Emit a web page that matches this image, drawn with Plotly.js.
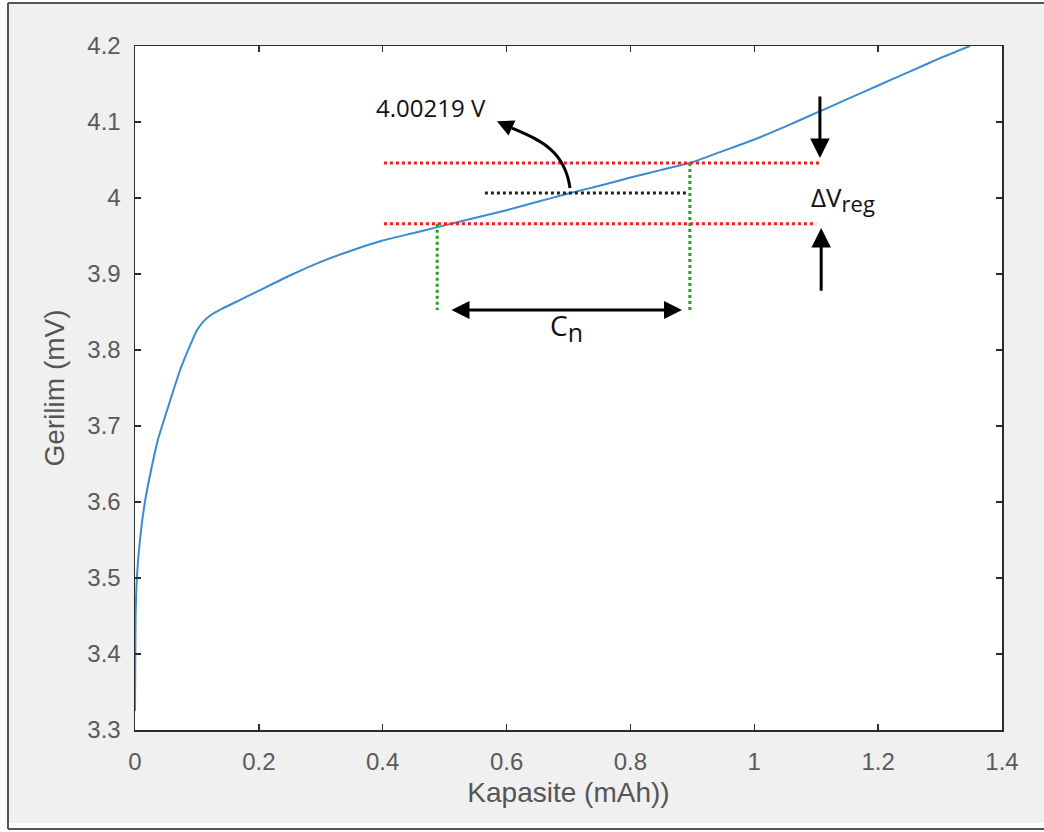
<!DOCTYPE html>
<html>
<head>
<meta charset="utf-8">
<script src="https://cdn.plot.ly/plotly-3.0.1.min.js"></script>
<style>html,body{margin:0;padding:0;background:#fff;}#chart{width:1044px;height:832px;}</style>
</head>
<body>
<div id="chart"></div>
<script>
// ---- data ----
const capacity = [0, 0.0005, 0.001, 0.003, 0.008, 0.016, 0.027, 0.037, 0.057, 0.073, 0.09, 0.100, 0.110, 0.121, 0.14, 0.17, 0.20, 0.25, 0.30, 0.35, 0.40, 0.45, 0.49, 0.55, 0.60, 0.65, 0.70, 0.75, 0.80, 0.85, 0.90, 0.95, 1.00, 1.05, 1.10, 1.15, 1.20, 1.25, 1.30, 1.348];
const voltage  = [3.325, 3.40, 3.45, 3.50, 3.55, 3.60, 3.646, 3.682, 3.734, 3.774, 3.808, 3.826, 3.837, 3.845, 3.854, 3.866, 3.878, 3.898, 3.916, 3.931, 3.944, 3.954, 3.962, 3.974, 3.984, 3.995, 4.006, 4.016, 4.027, 4.037, 4.047, 4.062, 4.077, 4.094, 4.112, 4.130, 4.148, 4.166, 4.184, 4.200];
const xTickVals = [0, 0.2, 0.4, 0.6, 0.8, 1.0, 1.2, 1.4];
const xTickText = ['0', '0.2', '0.4', '0.6', '0.8', '1', '1.2', '1.4'];
const yTickVals = [3.3, 3.4, 3.5, 3.6, 3.7, 3.8, 3.9, 4.0, 4.1, 4.2];
const yTickText = ['3.3', '3.4', '3.5', '3.6', '3.7', '3.8', '3.9', '4', '4.1', '4.2'];
// annotation values
const vHigh = 4.046, vLow = 3.966, vMid = 4.0066;
const cLow = 0.488, cHigh = 0.896;
const markText = '4.00219 V';

// ---- geometry helpers (pixel -> paper) ----
const W = 1044, H = 832, ML = 135, MR = 42, MT = 46, MB = 102;
const PW = W - ML - MR, PH = H - MT - MB;
const px = x => (x - ML) / PW;
const py = y => (H - MB - y) / PH;

const axisColor = '#2b2b2b';
const tickFont = {family: 'Liberation Sans, Arial, sans-serif', size: 24, color: '#5a5a5a'};
const noteFont = {family: 'Open Sans, Noto Sans, sans-serif', size: 24, color: '#111111'};

const trace = {
  x: capacity, y: voltage, type: 'scatter', mode: 'lines',
  line: {color: '#3a8bd2', width: 2, shape: 'spline', smoothing: 0.5},
  hoverinfo: 'skip', showlegend: false
};

const dot = (c) => ({color: c, width: 3, dash: 'dot'});
const shapes = [
  // outer frame
  {type: 'rect', xref: 'paper', yref: 'paper', x0: px(-5), x1: px(7), y0: py(-5), y1: py(840), fillcolor: '#ffffff', line: {width: 0}},
  {type: 'rect', xref: 'paper', yref: 'paper', x0: px(-5), x1: px(1050), y0: py(-5), y1: py(2), fillcolor: '#ffffff', line: {width: 0}},
  {type: 'rect', xref: 'paper', yref: 'paper', x0: px(-5), x1: px(1050), y0: py(823), y1: py(840), fillcolor: '#ffffff', line: {width: 0}},
  {type: 'line', xref: 'paper', yref: 'paper', x0: px(8), x1: px(8), y0: py(3), y1: py(829), line: {color: '#555555', width: 2}},
  {type: 'line', xref: 'paper', yref: 'paper', x0: px(8), x1: px(1050), y0: py(3), y1: py(3), line: {color: '#555555', width: 2}},
  {type: 'line', xref: 'paper', yref: 'paper', x0: px(8), x1: px(1050), y0: py(829), y1: py(829), line: {color: '#555555', width: 2}},
  // dotted guides
  {type: 'line', xref: 'x', yref: 'y', x0: 0.402, x1: 1.109, y0: vHigh, y1: vHigh, line: dot('#ff1a1a')},
  {type: 'line', xref: 'x', yref: 'y', x0: 0.402, x1: 1.100, y0: vLow, y1: vLow, line: dot('#ff1a1a')},
  {type: 'line', xref: 'x', yref: 'y', x0: 0.565, x1: 0.893, y0: vMid, y1: vMid, line: dot('#222222')},
  {type: 'line', xref: 'x', yref: 'y', x0: cLow, x1: cLow, y0: vLow, y1: 3.8526, line: dot('#2a9a2a')},
  {type: 'line', xref: 'x', yref: 'y', x0: cHigh, x1: cHigh, y0: vHigh, y1: 3.8526, line: dot('#2a9a2a')},
  // curved arrow body
  {type: 'path', xref: 'x', yref: 'y',
   path: 'M 0.7024,4.0132 C 0.694,4.063 0.654,4.076 0.6088,4.092',
   line: {color: '#000000', width: 3}}
];

const arrowBase = {xref: 'x', yref: 'y', axref: 'x', ayref: 'y', text: '', showarrow: true,
  arrowcolor: '#000000', arrowwidth: 3, arrowhead: 2, arrowsize: 1.2, standoff: 0, startstandoff: 0};

const annotations = [
  Object.assign({}, arrowBase, {x: 0.8833, y: 3.8526, ax: 0.5086, ay: 3.8526, arrowside: 'end+start', startarrowhead: 2, startarrowsize: 1.2}),
  Object.assign({}, arrowBase, {x: 1.106, y: 4.0526, ax: 1.106, ay: 4.1355, arrowsize: 1.3}),
  Object.assign({}, arrowBase, {x: 1.108, y: 3.9605, ax: 1.108, ay: 3.876, arrowsize: 1.3}),
  Object.assign({}, arrowBase, {x: 0.5845, y: 4.101, ax: 0.6088, ay: 4.092, arrowsize: 1.1}),
  {xref: 'x', yref: 'y', x: 0.478, y: 4.1197, text: markText, showarrow: false, font: noteFont, xanchor: 'center', yanchor: 'middle'},
  {xref: 'x', yref: 'y', x: 1.088, y: 4.0, text: '\u0394V<sub><span style="font-size:22px">reg</span></sub>', showarrow: false,
   font: {family: noteFont.family, size: 26, color: '#111111'}, xanchor: 'left', yanchor: 'middle'},
  {xref: 'x', yref: 'y', x: 0.667, y: 3.83, text: 'C<sub><span style="font-size:25px">n</span></sub>', showarrow: false,
   font: {family: noteFont.family, size: 28, color: '#111111'}, xanchor: 'left', yanchor: 'middle'}
];

const layout = {
  width: W, height: H, autosize: false,
  margin: {l: ML, r: MR, t: MT, b: MB, pad: 0},
  paper_bgcolor: '#f0f0f0', plot_bgcolor: '#ffffff',
  showlegend: false,
  xaxis: {
    range: [0, 1.4], tickmode: 'array', tickvals: xTickVals, ticktext: xTickText,
    showgrid: false, zeroline: false, showline: true, mirror: 'ticks',
    linecolor: axisColor, linewidth: 1.5, ticks: 'inside', ticklen: 6, tickwidth: 1.5, tickcolor: axisColor,
    tickfont: tickFont, ticklabelstandoff: 10,
    title: {text: 'Kapasite (mAh))', font: {family: 'Liberation Sans, Arial, sans-serif', size: 28, color: '#555555'}, standoff: 8}
  },
  yaxis: {
    range: [3.3, 4.2], tickmode: 'array', tickvals: yTickVals, ticktext: yTickText,
    showgrid: false, zeroline: false, showline: true, mirror: 'ticks',
    linecolor: axisColor, linewidth: 1.5, ticks: 'inside', ticklen: 6, tickwidth: 1.5, tickcolor: axisColor,
    tickfont: tickFont, ticklabelstandoff: 8,
    title: {text: 'Gerilim (mV)', font: {family: 'Liberation Sans, Arial, sans-serif', size: 28, color: '#555555'}, standoff: 14}
  },
  shapes: shapes,
  annotations: annotations
};

Plotly.newPlot('chart', [trace], layout, {staticPlot: true, displayModeBar: false});
</script>
</body>
</html>
